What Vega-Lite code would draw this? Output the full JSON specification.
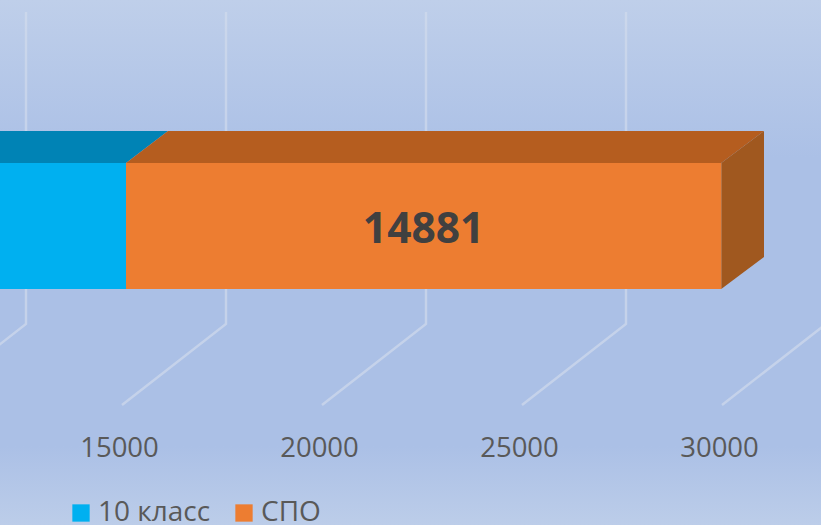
{
"$schema":"https://vega.github.io/schema/vega-lite/v6.json",
"width":821,"height":525,"padding":0,
"autosize":{"type":"fit","contains":"padding"},
"background":"#aec2e6",
"config":{"view":{"stroke":null},"font":"Open Sans"},
"datasets":{
"bg":[{"x0":12000,"x1":32525,"y0":525,"y1":0}],
"grid":[
{"tick":"10000","v":12650,"d":324},{"tick":"10000","v":12650,"d":12},
{"tick":"10000","v":10050,"d":405},
{"tick":"15000","v":15050,"d":405},{"tick":"15000","v":17650,"d":324},{"tick":"15000","v":17650,"d":12},
{"tick":"20000","v":20050,"d":405},{"tick":"20000","v":22650,"d":324},{"tick":"20000","v":22650,"d":12},
{"tick":"25000","v":25050,"d":405},{"tick":"25000","v":27650,"d":324},{"tick":"25000","v":27650,"d":12},
{"tick":"30000","v":30050,"d":405},{"tick":"30000","v":32650,"d":324}
],
"top":[
{"series":"10 класс","d":163,"a":10000,"b":15150},{"series":"10 класс","d":131,"a":11050,"b":16200},
{"series":"СПО","d":163,"a":15150,"b":30031},{"series":"СПО","d":131,"a":16200,"b":31100}
],
"side":[{"v":30031,"d0":163,"d1":289},{"v":31100,"d0":131,"d1":257}],
"front":[
{"series":"10 класс","start":10000,"end":15150,"value":15150,"d0":163,"d1":289},
{"series":"СПО","start":15150,"end":30031,"value":14881,"d0":163,"d1":289}
]
},
"layer":[
{"data":{"name":"bg"},
 "mark":{"type":"rect","fill":{"gradient":"linear","x1":0,"y1":0,"x2":0,"y2":1,"stops":[{"offset":0,"color":"#bfcfea"},{"offset":0.3,"color":"#abc0e6"},{"offset":0.85,"color":"#abc0e6"},{"offset":1,"color":"#bccde9"}]}},
 "encoding":{
  "x":{"field":"x0","type":"quantitative","scale":{"domain":[12000,32525],"nice":false,"zero":false},
   "axis":{"values":[15000,20000,25000,30000],"format":"d","title":null,"grid":false,"domain":false,"ticks":false,"orient":"bottom","offset":-91,"labelPadding":0,"labelFontSize":27.5,"labelColor":"#595959","labelFont":"Open Sans","labelFlush":false,"labelOverlap":false,"labelOffset":-1,"zindex":1}},
  "x2":{"field":"x1"},
  "y":{"field":"y0","type":"quantitative","scale":{"domain":[525,0],"nice":false,"zero":false},"axis":null},
  "y2":{"field":"y1"}}},
{"data":{"name":"grid"},
 "mark":{"type":"line","stroke":"#d3dcec","strokeWidth":2.5,"opacity":0.65,"clip":true},
 "encoding":{
  "x":{"field":"v","type":"quantitative"},
  "y":{"field":"d","type":"quantitative"},
  "detail":{"field":"tick"},
  "order":{"field":"d","sort":"descending"}}},
{"data":{"name":"top"},
 "mark":{"type":"area","orient":"horizontal","clip":true},
 "encoding":{
  "y":{"field":"d","type":"quantitative"},
  "x":{"field":"a","type":"quantitative"},
  "x2":{"field":"b"},
  "detail":{"field":"series"},
  "fill":{"field":"series","type":"nominal","legend":null,"scale":{"domain":["10 класс","СПО"],"range":["#0083b5","#b55d1f"]}}}},
{"data":{"name":"side"},
 "mark":{"type":"area","orient":"vertical","fill":"#a0581f"},
 "encoding":{
  "x":{"field":"v","type":"quantitative"},
  "y":{"field":"d0","type":"quantitative"},
  "y2":{"field":"d1"}}},
{"data":{"name":"front"},
 "mark":{"type":"rect","clip":true},
 "encoding":{
  "x":{"field":"start","type":"quantitative"},
  "x2":{"field":"end"},
  "y":{"field":"d0","type":"quantitative"},
  "y2":{"field":"d1"},
  "color":{"field":"series","type":"nominal","scale":{"domain":["10 класс","СПО"],"range":["#00b0f0","#ed7d31"]},
   "legend":{"orient":"none","legendX":67,"legendY":499,"direction":"horizontal","title":null,"symbolType":"square","symbolSize":300,"symbolStrokeWidth":0,"symbolOpacity":1,"labelFontSize":28,"labelColor":"#595959","labelFont":"Open Sans","labelOffset":3,"columnPadding":19,"columns":2}}}},
{"data":{"name":"front"},
 "transform":[{"filter":"datum.series === 'СПО'"}],
 "mark":{"type":"text","fontSize":42.5,"fontWeight":"bold","font":"Open Sans","color":"#404040","dy":4},
 "encoding":{
  "x":{"datum":22590,"type":"quantitative"},
  "y":{"datum":226,"type":"quantitative"},
  "text":{"field":"value","type":"quantitative","format":"d"}}}
],
"resolve":{"scale":{"color":"independent"}}
}
